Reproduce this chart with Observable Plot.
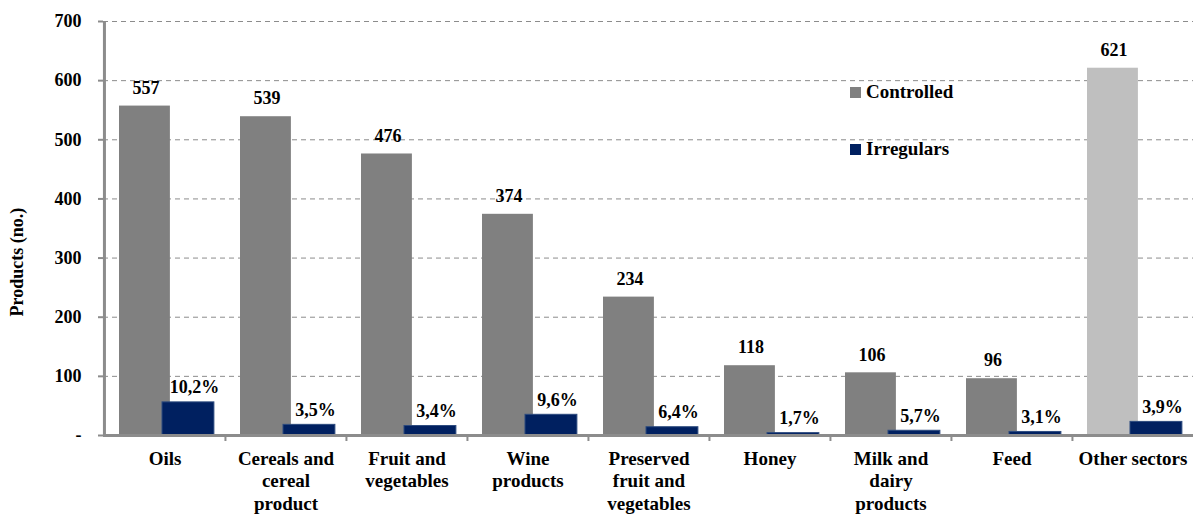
<!DOCTYPE html>
<html>
<head>
<meta charset="utf-8">
<script src="https://cdn.jsdelivr.net/npm/d3@7"></script>
<script src="https://cdn.jsdelivr.net/npm/@observablehq/plot@0.6"></script>
<style>
  html, body { margin: 0; padding: 0; background: #fff; }
  #wrap { position: relative; width: 1193px; height: 514px; font-family: "Liberation Serif", serif; font-weight: bold; color: #000; }
  .legend { position: absolute; left: 850px; height: 20px; display: flex; align-items: center; font-size: 19px; }
  .sw { width: 11px; height: 11px; margin-right: 5px; }
</style>
</head>
<body>
<div id="wrap"></div>
<script>
// ---- data ----
const categories = ["Oils", "Cereals and cereal product", "Fruit and vegetables", "Wine products",
  "Preserved fruit and vegetables", "Honey", "Milk and dairy products", "Feed", "Other sectors"];
const tickLabels = ["Oils", "Cereals and\ncereal\nproduct", "Fruit and\nvegetables", "Wine\nproducts",
  "Preserved\nfruit and\nvegetables", "Honey", "Milk and\ndairy\nproducts", "Feed", "Other sectors"];
const controlled = [557, 539, 476, 374, 234, 118, 106, 96, 621];
const irregular = [56, 18, 16, 35, 14, 4, 8, 6, 23];
const irregularPct = ["10,2%", "3,5%", "3,4%", "9,6%", "6,4%", "1,7%", "5,7%", "3,1%", "3,9%"];
const yTicks = [0, 100, 200, 300, 400, 500, 600, 700];
const seriesNames = ["Controlled", "Irregulars"];

// ---- layout / style ----
const W = 1193, H = 514, mL = 103, mR = 0, mT = 21, mB = 79;
const bw = (W - mL - mR) / categories.length;
const DARK = "#808080", LIGHT = "#bfbfbf", BLUE = "#002060", AXIS = "#8c8c8c";
const FONT = "'Liberation Serif', 'Times New Roman', serif";

const data = categories.map((c, i) => ({
  category: c, label: tickLabels[i], controlled: controlled[i],
  irregular: irregular[i], pct: irregularPct[i]
}));

const grayL = 15, grayR = 66, blueL = 58, blueR = 110;

const plot = Plot.plot({
  width: W, height: H,
  marginLeft: mL, marginRight: mR, marginTop: mT, marginBottom: mB,
  style: { fontFamily: FONT, fontWeight: "bold", fontSize: "18px", color: "#000", background: "#fff", overflow: "visible" },
  x: { domain: categories, padding: 0, axis: null },
  y: { domain: [0, 700], axis: null },
  color: { type: "identity" },
  marks: [
    Plot.gridY(yTicks.slice(1), { stroke: AXIS, strokeOpacity: 1, strokeWidth: 1, strokeDasharray: "5,4" }),
    Plot.barY(data, {
      x: "category", y: "controlled",
      fill: d => d.category === "Other sectors" ? LIGHT : DARK,
      insetLeft: grayL, insetRight: bw - grayR, ariaLabel: "controlled"
    }),
    Plot.barY(data, {
      x: "category", y: "irregular", fill: BLUE, stroke: "#2c4a7e", strokeWidth: 1,
      insetLeft: blueL, insetRight: bw - blueR, ariaLabel: "irregular"
    }),
    Plot.text(data, {
      x: "category", y: "controlled", text: d => String(d.controlled),
      dx: (grayL + grayR) / 2 - bw / 2 + 1, dy: -18, fontSize: 18, fill: "#000"
    }),
    Plot.text(data, {
      x: "category", y: "irregular", text: "pct",
      dx: (blueL + blueR) / 2 - bw / 2 + 6, dy: -15, fontSize: 18, fill: "#000"
    }),
    // y axis line
    Plot.ruleX([categories[0]], { dx: -bw / 2, y1: 0, y2: 700, stroke: AXIS, strokeWidth: 3 }),
    Plot.axisY(yTicks, {
      tickSize: 5, tickPadding: 17, stroke: AXIS, strokeWidth: 2,
      tickFormat: d => d === 0 ? "-" : String(d), fontSize: 18, label: null
    }),
    // x baseline
    Plot.ruleY([0], { stroke: AXIS, strokeWidth: 3 }),
    Plot.axisX(categories.slice(1), {
      tickSize: 6, tickFormat: () => "", dx: -bw / 2, stroke: AXIS, strokeWidth: 2, label: null
    }),
    Plot.text(data, {
      x: "category", text: "label", frameAnchor: "bottom", lineAnchor: "top",
      dy: 13, fontSize: 19, lineHeight: 1.2, fill: "#000"
    }),
    Plot.text(["Products (no.)"], {
      frameAnchor: "left", rotate: -90, dx: -86, dy: 88, fontSize: 18, fill: "#000"
    })
  ]
});

// drop shadow on controlled bars
const svg = d3.select(plot);
const defs = svg.insert("defs", ":first-child");
const f = defs.append("filter").attr("id", "barShadow").attr("x", "-20%").attr("y", "-10%").attr("width", "150%").attr("height", "130%");
f.append("feDropShadow").attr("dx", 3).attr("dy", 2).attr("stdDeviation", 1.8)
  .attr("flood-color", "#000").attr("flood-opacity", 0.35);
svg.selectAll('g[aria-label="controlled"] rect').attr("filter", "url(#barShadow)");

const wrap = document.getElementById("wrap");
wrap.appendChild(plot);

// legend
const legendColors = [DARK, BLUE];
const legendTops = [82, 139];
seriesNames.forEach((name, i) => {
  const div = document.createElement("div");
  div.className = "legend";
  div.style.top = legendTops[i] + "px";
  const sw = document.createElement("span");
  sw.className = "sw";
  sw.style.background = legendColors[i];
  div.appendChild(sw);
  div.appendChild(document.createTextNode(name));
  wrap.appendChild(div);
});
</script>
</body>
</html>
